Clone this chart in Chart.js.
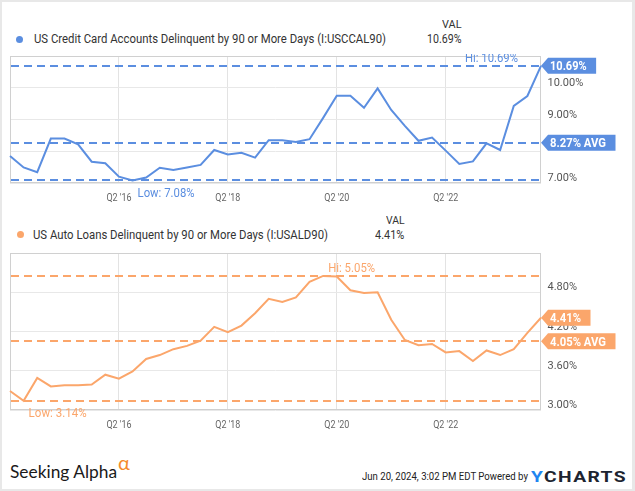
<!DOCTYPE html>
<html>
<head>
<meta charset="utf-8">
<script src="https://cdn.jsdelivr.net/npm/chart.js@4"></script>
<style>
  body { margin: 0; width: 635px; height: 491px; background: #e8e8e8; overflow: hidden; position: relative; font-family: Roboto, sans-serif; }
  #card { position: absolute; left: 2px; top: 2px; width: 630px; height: 487px; background: #fff; }
  canvas { position: absolute; left: 0; }
  .t { position: absolute; white-space: nowrap; line-height: 1; transform-origin: 0 50%; display: inline-block; }
  .dot { position: absolute; width: 7px; height: 7px; border-radius: 50%; }
</style>
</head>
<body>
<div id="card"></div>

<div class="dot" style="left:16px;top:36px;background:#5b8ee0"></div>
<span class="t" data-w="352" style="left:34px;top:33px;font-size:12px;color:#333">US Credit Card Accounts Delinquent by 90 or More Days (I:USCCAL90)</span>
<span class="t" data-w="19.5" style="left:441.5px;top:18.5px;font-size:11px;color:#333">VAL</span>
<span class="t" data-w="34.4" style="left:426.5px;top:33px;font-size:12px;color:#333">10.69%</span>

<div class="dot" style="left:17px;top:231px;background:#fba66b"></div>
<span class="t" data-w="295" style="left:33.3px;top:229px;font-size:12px;color:#333">US Auto Loans Delinquent by 90 or More Days (I:USALD90)</span>
<span class="t" data-w="18.6" style="left:385.7px;top:214.5px;font-size:11px;color:#333">VAL</span>
<span class="t" data-w="29.3" style="left:375px;top:229px;font-size:12px;color:#333">4.41%</span>

<canvas id="creditChart" width="635" height="152" style="top:54px"></canvas>
<canvas id="autoChart" width="635" height="190" style="top:245px"></canvas>

<span class="t" data-w="107" style="left:10px;top:463px;font-size:17px;font-family:Lato,sans-serif;color:#1a1a1a">Seeking Alpha</span>
<span class="t" style="left:118px;top:452px;font-size:20px;font-family:Lato,sans-serif;color:#f58a2b">α</span>
<span class="t" data-w="166" style="left:362px;top:471px;font-size:11px;color:#222">Jun 20, 2024, 3:02 PM EDT Powered by</span>
<span class="t" data-w="96" style="left:531px;top:470px;font-size:14px;font-weight:bold;letter-spacing:1px;color:#1d2430"><span style="color:#1f86f0">Y</span>CHARTS</span>

<script>
// quarterly observations, Q2 '14 .. Q1 '24
const quarters = [
  "Q2 '14", "Q3 '14", "Q4 '14",
  "Q1 '15", "Q2 '15", "Q3 '15", "Q4 '15",
  "Q1 '16", "Q2 '16", "Q3 '16", "Q4 '16",
  "Q1 '17", "Q2 '17", "Q3 '17", "Q4 '17",
  "Q1 '18", "Q2 '18", "Q3 '18", "Q4 '18",
  "Q1 '19", "Q2 '19", "Q3 '19", "Q4 '19",
  "Q1 '20", "Q2 '20", "Q3 '20", "Q4 '20",
  "Q1 '21", "Q2 '21", "Q3 '21", "Q4 '21",
  "Q1 '22", "Q2 '22", "Q3 '22", "Q4 '22",
  "Q1 '23", "Q2 '23", "Q3 '23", "Q4 '23",
  "Q1 '24"
];
const xTickLabels = ["Q2 '16", "Q2 '18", "Q2 '20", "Q2 '22"];

const creditValues = [
  7.85, 7.49, 7.34, 8.40, 8.40, 8.22, 7.67, 7.62, 7.20, 7.08,
  7.17, 7.48, 7.41, 7.49, 7.57, 8.04, 7.90, 7.95, 7.80, 8.35,
  8.35, 8.29, 8.38, 9.05, 9.75, 9.75, 9.37, 9.98, 9.30, 8.80,
  8.33, 8.43, 8.02, 7.60, 7.68, 8.25, 8.04, 9.43, 9.74, 10.69
];
const creditAvg = 8.27;
const creditTicks = [7, 8, 9, 10, 11];

const autoValues = [
  3.29, 3.14, 3.49, 3.36, 3.38, 3.38, 3.39, 3.54, 3.48, 3.59,
  3.78, 3.84, 3.93, 3.98, 4.06, 4.27, 4.19, 4.29, 4.48, 4.70,
  4.65, 4.72, 4.96, 5.05, 5.04, 4.83, 4.79, 4.80, 4.38, 4.07,
  3.99, 4.01, 3.88, 3.90, 3.75, 3.91, 3.84, 3.93, 4.18, 4.41
];
const autoAvg = 4.05;
const autoTicks = [3.0, 3.6, 4.2, 4.8, 5.4];

// draw text squeezed/stretched to a target width
function fitText(ctx, text, x, y, w, align) {
  const m = ctx.measureText(text).width;
  const s = w / m;
  ctx.save();
  ctx.translate(align === 'center' ? x - w / 2 : x, y);
  ctx.scale(s, 1);
  ctx.fillText(text, 0, 0);
  ctx.restore();
}

const refs = {
  id: 'refs',
  beforeDatasetsDraw(chart, args, o) {
    const {ctx, chartArea: a, scales: {y}} = chart;
    ctx.save();
    ctx.strokeStyle = '#d0d0d0';
    ctx.lineWidth = 1;
    ctx.strokeRect(a.left + 0.5, a.top + 0.5, a.right - a.left - 1, a.bottom - a.top - 1);
    ctx.strokeStyle = o.color;
    ctx.lineWidth = 2;
    ctx.setLineDash([8, 5]);
    [o.hi, o.avg, o.low].forEach(v => {
      const py = Math.round(y.getPixelForValue(v));
      ctx.beginPath();
      ctx.moveTo(a.left + 1, py);
      ctx.lineTo(a.right - 2, py);
      ctx.stroke();
    });
    ctx.restore();
  },
  afterDatasetsDraw(chart, args, o) {
    const {ctx, chartArea: a, scales: {x, y}} = chart;
    ctx.save();
    ctx.textAlign = 'left';
    ctx.textBaseline = 'alphabetic';

    // right axis labels
    ctx.font = '11px Roboto';
    ctx.fillStyle = '#555';
    o.ticks.slice(0, -1).forEach(v => {
      ctx.fillText(v.toFixed(2) + '%', a.right + 6.5, y.getPixelForValue(v) - 2);
    });

    // x labels
    ctx.fillStyle = '#666';
    xTickLabels.forEach(l => {
      fitText(ctx, l, x.getPixelForValue(quarters.indexOf(l)), a.bottom + 17.5, 25, 'center');
    });

    // hi / low labels
    ctx.font = '12px Roboto';
    ctx.fillStyle = o.color;
    const hiX = x.getPixelForValue(o.values.indexOf(o.hi));
    const loX = x.getPixelForValue(o.values.indexOf(o.low));
    fitText(ctx, 'Hi: ' + o.hi.toFixed(2) + '%', Math.min(hiX + 5, a.right - 23 - o.hiW),
      y.getPixelForValue(o.hi) - 8.5 + 4.3, o.hiW);
    fitText(ctx, 'Low: ' + o.low.toFixed(2) + '%', Math.min(loX + 5, a.right - 23 - o.loW),
      y.getPixelForValue(o.low) + 12 + 4.3, o.loW);

    // value tags
    const tag = (v, text, w) => {
      const py = y.getPixelForValue(v);
      const x0 = a.right, bx = x0 + 7, tx = x0 + 9, r = tx + w + 9.5;
      ctx.fillStyle = o.color;
      ctx.beginPath();
      ctx.moveTo(x0, py);
      ctx.lineTo(bx, py - 8);
      ctx.lineTo(r, py - 8);
      ctx.lineTo(r, py + 8);
      ctx.lineTo(bx, py + 8);
      ctx.closePath();
      ctx.fill();
      ctx.fillStyle = '#fff';
      ctx.font = 'bold 12px Roboto';
      fitText(ctx, text, tx, py + 4.3, w);
    };
    const last = o.values[o.values.length - 1];
    tag(o.avg, o.avg.toFixed(2) + '% AVG', 56);
    tag(last, last.toFixed(2) + '%', o.lastW);
    ctx.restore();
  }
};

function makeChart(id, values, color, avg, ticks, pad, extra) {
  return new Chart(document.getElementById(id), {
    type: 'line',
    data: {
      labels: quarters,
      datasets: [{
        data: values,
        borderColor: color,
        borderWidth: 2,
        pointRadius: 0,
        tension: 0,
        clip: false
      }]
    },
    options: {
      animation: false,
      responsive: false,
      events: [],
      layout: {padding: pad},
      scales: {
        x: {
          offset: false,
          afterBuildTicks: s => { s.ticks = xTickLabels.map(l => ({value: quarters.indexOf(l)})); },
          ticks: {display: false},
          grid: {color: '#e3e3e3', drawTicks: false, offset: false},
          border: {display: false}
        },
        y: {
          position: 'right',
          min: ticks[0],
          max: ticks[ticks.length - 1],
          afterBuildTicks: s => { s.ticks = ticks.map(v => ({value: v})); },
          ticks: {display: false},
          grid: {color: '#e8e8e8', drawTicks: false},
          border: {display: false}
        }
      },
      plugins: {
        legend: {display: false},
        tooltip: {enabled: false},
        refs: Object.assign({
          color: color,
          values: values,
          avg: avg,
          ticks: ticks,
          hi: Math.max(...values),
          low: Math.min(...values)
        }, extra)
      }
    },
    plugins: [refs]
  });
}

function fitHtml() {
  document.querySelectorAll('.t[data-w]').forEach(el => {
    const w = parseFloat(el.dataset.w);
    el.style.transform = 'scaleX(' + (w / el.getBoundingClientRect().width) + ')';
  });
}

Promise.all([
  document.fonts.load('12px Roboto'),
  document.fonts.load('bold 12px Roboto'),
  document.fonts.load('17px Lato')
]).catch(() => {}).then(() => {
  fitHtml();
  makeChart('creditChart', creditValues, '#5b8ee0', creditAvg, creditTicks,
    {left: 10, right: 94, top: 2, bottom: 23}, {hiW: 53, loW: 57, lastW: 36.6});
  makeChart('autoChart', autoValues, '#fba66b', autoAvg, autoTicks,
    {left: 10, right: 94, top: 8, bottom: 25}, {hiW: 47, loW: 58, lastW: 31});
});
</script>
</body>
</html>
